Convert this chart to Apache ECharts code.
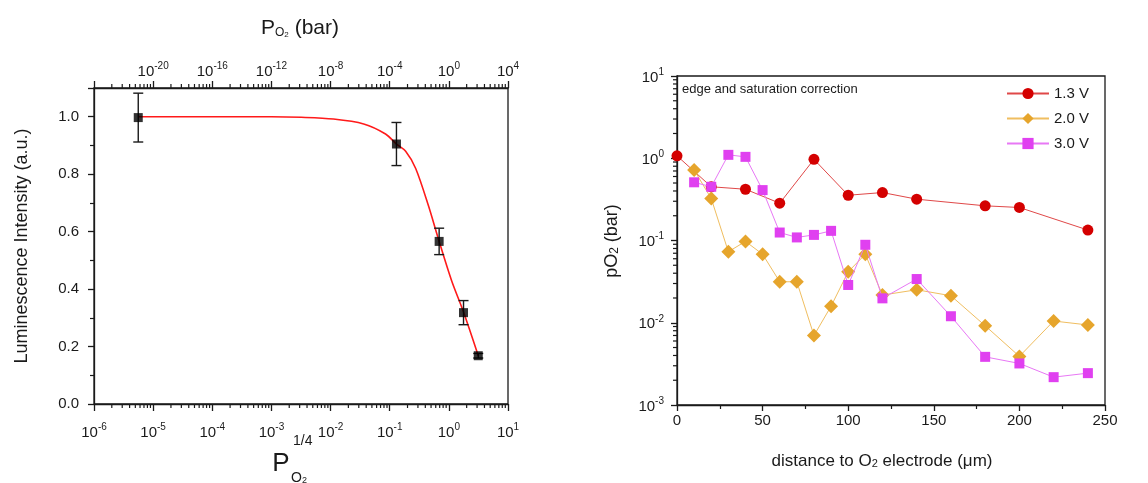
<!DOCTYPE html>
<html>
<head>
<meta charset="utf-8">
<script src="https://cdn.jsdelivr.net/npm/echarts@6/dist/echarts.min.js"></script>
<style>
html, body { margin: 0; padding: 0; background: #fff; }
#chart { width: 1148px; height: 483px; }
</style>
</head>
<body>
<div id="chart"></div>
<script>
var FONT = 'Liberation Sans, Arial, sans-serif';
var INK = '#1a1a1a';

// left panel: luminescence vs P_O2^(1/4)
var lumX = [5.6e-6, 0.13, 0.685, 1.77, 3.14];
var lumY = [0.997, 0.905, 0.566, 0.318, 0.168];
var lumErr = [0.085, 0.075, 0.046, 0.042, 0.008];

// fitted curve
var fitX = [5.6e-6, 6.3e-5, 1e-3, 3.2e-3, 0.0112, 0.0363, 0.085, 0.13, 0.186, 0.275, 0.452, 0.685, 1.11, 1.77, 3.14];
var fitY = [1.0, 1.0, 1.0, 0.998, 0.992, 0.975, 0.94, 0.905, 0.88, 0.82, 0.69, 0.566, 0.43, 0.32, 0.168];

// right panel: pO2 vs distance
var dist13 = [0, 20, 40, 60, 80, 100, 120, 140, 180, 200, 240];
var p13 = [1.07, 0.45, 0.42, 0.284, 0.97, 0.355, 0.383, 0.318, 0.264, 0.252, 0.134];
var dist20 = [10, 20, 30, 40, 50, 60, 70, 80, 90, 100, 110, 120, 140, 160, 180, 200, 220, 240];
var p20 = [0.72, 0.324, 0.073, 0.0975, 0.068, 0.0315, 0.0315, 0.007, 0.0159, 0.0417, 0.068, 0.0217, 0.0252, 0.0213, 0.0092, 0.0039, 0.0105, 0.0094];
var dist30 = [10, 20, 30, 40, 50, 60, 70, 80, 90, 100, 110, 120, 140, 160, 180, 200, 220, 240];
var p30 = [0.51, 0.45, 1.1, 1.04, 0.41, 0.125, 0.109, 0.117, 0.131, 0.0288, 0.0887, 0.0198, 0.034, 0.012, 0.00385, 0.0032, 0.00218, 0.00244];

var seriesNames = ['1.3 V', '2.0 V', '3.0 V'];

function zip(a, b) {
    var out = [];
    for (var i = 0; i < a.length; i++) out.push([a[i], b[i]]);
    return out;
}

// log minor tick positions (2..9 per decade)
function logMinor(e0, e1) {
    var t = [];
    for (var e = e0; e < e1; e++) {
        for (var m = 2; m <= 9; m++) t.push(m * Math.pow(10, e));
    }
    return t;
}

var powRich = {
    b: { fontSize: 15, lineHeight: 18, verticalAlign: 'bottom', fontFamily: FONT, color: INK },
    s: { fontSize: 10, lineHeight: 10, verticalAlign: 'top', fontFamily: FONT, color: INK }
};
function powLabel(exp) {
    return '{b|10}{s|' + exp + '}';
}
function expOf(v) {
    return Math.round(Math.log(v) / Math.LN10);
}

var axisLine = { lineStyle: { color: INK, width: 1.3 } };

var errData = [];
for (var i = 0; i < lumX.length; i++) errData.push([lumX[i], lumY[i], lumErr[i]]);

var minorLeft = logMinor(-6, 1).map(function (v) { return [v, 0]; });
var minorRight = logMinor(-3, 1).map(function (v) { return [0, v]; });

var option = {
    animation: false,
    backgroundColor: '#fff',
    textStyle: { fontFamily: FONT },
    grid: [
        { left: 94, right: 640, top: 88, bottom: 79, show: true, borderColor: INK, borderWidth: 1.3, outerBoundsMode: 'none' },
        { left: 677, right: 43, top: 76, bottom: 78, show: true, borderColor: INK, borderWidth: 1.3, outerBoundsMode: 'none' }
    ],
    legend: {
        data: seriesNames,
        orient: 'vertical',
        left: 1001,
        top: 81,
        itemWidth: 42,
        itemHeight: 14,
        itemGap: 10,
        textStyle: { fontSize: 15, color: INK, fontFamily: FONT }
    },
    xAxis: [
        {
            type: 'log', gridIndex: 0, min: 1e-6, max: 10, interval: 1, position: 'bottom',
            axisLine: axisLine,
            axisTick: { length: 7, lineStyle: { color: INK, width: 1.3 } },
            splitLine: { show: false },
            axisLabel: { margin: 18, rich: powRich, formatter: function (v) { return powLabel(expOf(v)); } }
        },
        {
            type: 'log', gridIndex: 0, min: 1e-6, max: 10, interval: 1, position: 'top',
            axisLine: axisLine,
            axisTick: { length: 7, lineStyle: { color: INK, width: 1.3 } },
            splitLine: { show: false },
            axisLabel: {
                margin: 9, rich: powRich,
                formatter: function (v) {
                    var e = expOf(v);
                    return e === -6 ? '' : powLabel(4 * e);
                }
            }
        },
        {
            type: 'value', gridIndex: 1, min: 0, max: 250, interval: 50,
            axisLine: axisLine,
            axisTick: { length: 6, lineStyle: { color: INK, width: 1.3 } },
            minorTick: { show: true, splitNumber: 2, length: 4, lineStyle: { color: INK, width: 1.2 } },
            splitLine: { show: false },
            axisLabel: { margin: 8, fontSize: 15, color: INK, fontFamily: FONT }
        }
    ],
    yAxis: [
        {
            type: 'value', gridIndex: 0, min: 0, max: 1.1, interval: 0.2,
            axisLine: axisLine,
            axisTick: { length: 6, lineStyle: { color: INK, width: 1.3 } },
            minorTick: { show: true, splitNumber: 2, length: 4, lineStyle: { color: INK, width: 1.2 } },
            splitLine: { show: false },
            axisLabel: {
                margin: 15, fontSize: 15, color: INK, fontFamily: FONT,
                formatter: function (v) { return v > 1.05 ? '' : v.toFixed(1); }
            }
        },
        {
            type: 'log', gridIndex: 1, min: 0.001, max: 10, interval: 1,
            axisLine: axisLine,
            axisTick: { length: 6, lineStyle: { color: INK, width: 1.3 } },
            splitLine: { show: false },
            axisLabel: { margin: 13, rich: powRich, formatter: function (v) { return powLabel(expOf(v)); } }
        }
    ],
    series: [
        {
            type: 'custom', xAxisIndex: 0, yAxisIndex: 0, silent: true, clip: false, z: 3,
            data: minorLeft,
            renderItem: function (params, api) {
                var b = api.coord([api.value(0), 0]);
                var t = api.coord([api.value(0), 1.1]);
                var st = { stroke: INK, lineWidth: 1.2 };
                return { type: 'group', children: [
                    { type: 'line', shape: { x1: b[0], y1: b[1], x2: b[0], y2: b[1] + 4 }, style: st },
                    { type: 'line', shape: { x1: t[0], y1: t[1], x2: t[0], y2: t[1] - 4 }, style: st }
                ] };
            }
        },
        {
            type: 'line', xAxisIndex: 0, yAxisIndex: 0, data: zip(fitX, fitY),
            smooth: 0.3, showSymbol: false, silent: true,
            lineStyle: { color: '#ff1a1a', width: 1.6 }, z: 2
        },
        {
            type: 'custom', xAxisIndex: 0, yAxisIndex: 0, silent: true, clip: false, z: 4,
            data: errData,
            renderItem: function (params, api) {
                var x = api.value(0), y = api.value(1), e = api.value(2);
                var top = api.coord([x, y + e]);
                var bot = api.coord([x, y - e]);
                var w = 5;
                var st = { stroke: INK, lineWidth: 1.4 };
                return { type: 'group', children: [
                    { type: 'line', shape: { x1: top[0], y1: top[1], x2: bot[0], y2: bot[1] }, style: st },
                    { type: 'line', shape: { x1: top[0] - w, y1: top[1], x2: top[0] + w, y2: top[1] }, style: st },
                    { type: 'line', shape: { x1: bot[0] - w, y1: bot[1], x2: bot[0] + w, y2: bot[1] }, style: st }
                ] };
            }
        },
        {
            type: 'scatter', xAxisIndex: 0, yAxisIndex: 0, data: zip(lumX, lumY),
            symbol: 'rect', symbolSize: 9, itemStyle: { color: '#000' }, z: 5, silent: true
        },
        {
            type: 'custom', xAxisIndex: 2, yAxisIndex: 1, silent: true, clip: false, z: 3,
            data: minorRight,
            renderItem: function (params, api) {
                var p = api.coord([0, api.value(1)]);
                return { type: 'line', shape: { x1: p[0], y1: p[1], x2: p[0] - 4, y2: p[1] }, style: { stroke: INK, lineWidth: 1.2 } };
            }
        },
        {
            name: seriesNames[0], type: 'line', xAxisIndex: 2, yAxisIndex: 1, data: zip(dist13, p13),
            symbol: 'circle', symbolSize: 11, clip: false,
            itemStyle: { color: '#d40000' }, lineStyle: { color: '#e04848', width: 1 }, z: 5
        },
        {
            name: seriesNames[1], type: 'line', xAxisIndex: 2, yAxisIndex: 1, data: zip(dist20, p20),
            symbol: 'diamond', symbolSize: 14, clip: false,
            itemStyle: { color: '#e6a52c' }, lineStyle: { color: '#f0be60', width: 1 }, z: 6
        },
        {
            name: seriesNames[2], type: 'line', xAxisIndex: 2, yAxisIndex: 1, data: zip(dist30, p30),
            symbol: 'rect', symbolSize: 10, clip: false,
            itemStyle: { color: '#e040f0' }, lineStyle: { color: '#e878f5', width: 1 }, z: 7
        }
    ],
    graphic: [
        {
            type: 'text', x: 22, y: 246, rotation: Math.PI / 2,
            style: { text: 'Luminescence Intensity (a.u.)', font: '18px ' + FONT, fill: INK, align: 'center', verticalAlign: 'middle' }
        },
        {
            type: 'text', x: 300, y: 28,
            style: {
                text: '{p|P}{o|O}{t|2}{p| (bar)}', fill: INK, align: 'center', verticalAlign: 'middle',
                rich: {
                    p: { fontSize: 21, lineHeight: 21, verticalAlign: 'top', fontFamily: FONT, fill: INK },
                    o: { fontSize: 12, lineHeight: 16, verticalAlign: 'bottom', fontFamily: FONT, fill: INK },
                    t: { fontSize: 8, lineHeight: 10, verticalAlign: 'bottom', fontFamily: FONT, fill: INK }
                }
            }
        },
        {
            type: 'text', x: 281, y: 464,
            style: { text: 'P', font: '26px ' + FONT, fill: INK, align: 'center', verticalAlign: 'middle' }
        },
        {
            type: 'text', x: 293, y: 441,
            style: { text: '1/4', font: '14px ' + FONT, fill: INK, align: 'left', verticalAlign: 'middle' }
        },
        {
            type: 'text', x: 291, y: 478,
            style: {
                text: 'O{t|2}', font: '14px ' + FONT, fill: INK, align: 'left', verticalAlign: 'middle',
                rich: { t: { fontSize: 9, lineHeight: 9, verticalAlign: 'bottom', fontFamily: FONT, fill: INK } }
            }
        },
        {
            type: 'text', x: 612, y: 241, rotation: Math.PI / 2,
            style: {
                text: 'pO{t|2} (bar)', font: '18px ' + FONT, fill: INK, align: 'center', verticalAlign: 'middle',
                rich: { t: { fontSize: 12, lineHeight: 12, verticalAlign: 'bottom', fontFamily: FONT, fill: INK } }
            }
        },
        {
            type: 'text', x: 882, y: 461,
            style: {
                text: 'distance to O{t|2} electrode (\u03bcm)', font: '17px ' + FONT, fill: INK, align: 'center', verticalAlign: 'middle',
                rich: { t: { fontSize: 11, lineHeight: 11, verticalAlign: 'bottom', fontFamily: FONT, fill: INK } }
            }
        },
        {
            type: 'text', x: 682, y: 89,
            style: { text: 'edge and saturation correction', font: '13px ' + FONT, fill: INK, align: 'left', verticalAlign: 'middle' }
        }
    ]
};

var myChart = echarts.init(document.getElementById('chart'));
myChart.setOption(option);
</script>
</body>
</html>
